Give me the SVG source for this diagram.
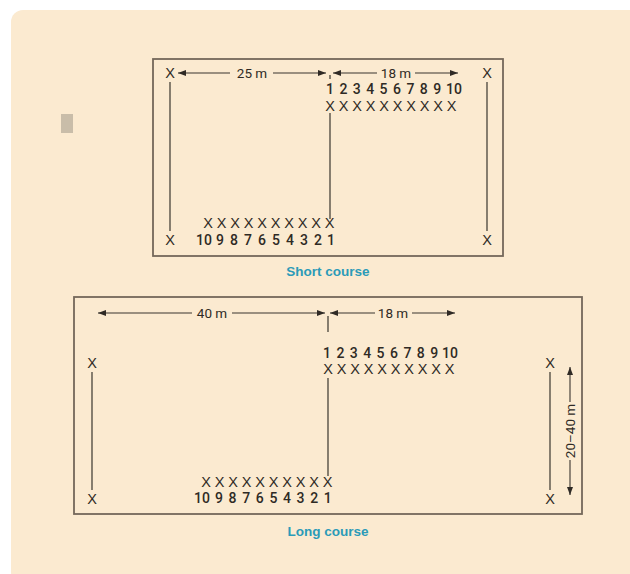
<svg xmlns="http://www.w3.org/2000/svg" width="630" height="574" viewBox="0 0 630 574">
  <defs>
    <marker id="head" viewBox="0 0 8 6" refX="8" refY="3" markerWidth="8" markerHeight="6" markerUnits="userSpaceOnUse" orient="auto-start-reverse">
      <path d="M0,0 L8,3 L0,6 Z" fill="#2f2a25"/>
    </marker>
    <style>
      .field { fill: none; stroke: #74685a; stroke-width: 1.8; }
      .line { stroke: #3a342e; stroke-width: 1.2; fill: none; }
      .arrow { stroke: #3a342e; stroke-width: 1.1; fill: none; }
      .x { font-family: "Liberation Sans", Arial, sans-serif; font-size: 14.5px; fill: #2f2a25; text-anchor: middle; }
      .num { font-family: Roboto, "Liberation Sans", Arial, sans-serif; font-size: 14px; font-weight: 500; fill: #2f2a25; text-anchor: middle; }
      .dim { font-family: Roboto, "Liberation Sans", Arial, sans-serif; font-size: 13.5px; fill: #2f2a25; text-anchor: middle; }
      .caption { font-family: "Liberation Sans", Arial, sans-serif; font-size: 13.5px; font-weight: bold; fill: #2b9bb8; text-anchor: middle; }
    </style>
  </defs>

  <!-- page panel -->
  <rect x="11" y="10" width="640" height="574" rx="12" fill="#fbead0"/>
  <rect x="61" y="114" width="12" height="19" fill="#c9bda9"/>

  <!-- short course -->
  <g id="short-course">
    <rect class="field" x="153" y="59" width="350" height="197"/>
    <g id="short-cones" class="x">
      <text x="170" y="78">X</text>
      <text x="487" y="78">X</text>
      <text x="170" y="245">X</text>
      <text x="487" y="245">X</text>
    </g>
    <text class="num" y="94"><tspan x="330">1</tspan><tspan x="343.4">2</tspan><tspan x="356.8">3</tspan><tspan x="370.2">4</tspan><tspan x="383.6">5</tspan><tspan x="397">6</tspan><tspan x="410.4">7</tspan><tspan x="423.8">8</tspan><tspan x="437.2">9</tspan><tspan x="454">10</tspan></text>
    <text class="x" y="111"><tspan x="330">X</tspan><tspan x="343.5">X</tspan><tspan x="357">X</tspan><tspan x="370.5">X</tspan><tspan x="384">X</tspan><tspan x="397.5">X</tspan><tspan x="411">X</tspan><tspan x="424.5">X</tspan><tspan x="438">X</tspan><tspan x="451.5">X</tspan></text>
    <text class="x" y="228"><tspan x="208">X</tspan><tspan x="221.5">X</tspan><tspan x="235">X</tspan><tspan x="248.5">X</tspan><tspan x="262">X</tspan><tspan x="275.5">X</tspan><tspan x="289">X</tspan><tspan x="302.5">X</tspan><tspan x="316">X</tspan><tspan x="329.5">X</tspan></text>
    <text class="num" y="245"><tspan x="204">10</tspan><tspan x="220">9</tspan><tspan x="234">8</tspan><tspan x="248">7</tspan><tspan x="262">6</tspan><tspan x="276">5</tspan><tspan x="290">4</tspan><tspan x="304">3</tspan><tspan x="318">2</tspan><tspan x="331">1</tspan></text>
    <text class="dim" x="252" y="78">25 m</text>
    <text class="dim" x="396" y="78">18 m</text>
    <text class="caption" x="328" y="276">Short course</text>
  </g>

  <!-- long course -->
  <g id="long-course">
    <rect class="field" x="74" y="297" width="508" height="217"/>
    <g id="long-cones" class="x">
      <text x="92" y="368">X</text>
      <text x="550" y="368">X</text>
      <text x="92" y="504">X</text>
      <text x="550" y="504">X</text>
    </g>
    <text class="num" y="358"><tspan x="327">1</tspan><tspan x="340.4">2</tspan><tspan x="353.8">3</tspan><tspan x="367.2">4</tspan><tspan x="380.6">5</tspan><tspan x="394">6</tspan><tspan x="407.4">7</tspan><tspan x="420.8">8</tspan><tspan x="434.2">9</tspan><tspan x="450">10</tspan></text>
    <text class="x" y="374"><tspan x="328">X</tspan><tspan x="341.5">X</tspan><tspan x="355">X</tspan><tspan x="368.5">X</tspan><tspan x="382">X</tspan><tspan x="395.5">X</tspan><tspan x="409">X</tspan><tspan x="422.5">X</tspan><tspan x="436">X</tspan><tspan x="449.5">X</tspan></text>
    <text class="x" y="487"><tspan x="206">X</tspan><tspan x="219.5">X</tspan><tspan x="233">X</tspan><tspan x="246.5">X</tspan><tspan x="260">X</tspan><tspan x="273.5">X</tspan><tspan x="287">X</tspan><tspan x="300.5">X</tspan><tspan x="314">X</tspan><tspan x="327.5">X</tspan></text>
    <text class="num" y="503"><tspan x="202">10</tspan><tspan x="219">9</tspan><tspan x="232.6">8</tspan><tspan x="246.2">7</tspan><tspan x="259.8">6</tspan><tspan x="273.4">5</tspan><tspan x="287">4</tspan><tspan x="300.6">3</tspan><tspan x="314.2">2</tspan><tspan x="327.8">1</tspan></text>
    <text class="dim" x="212" y="318">40 m</text>
    <text class="dim" x="393" y="318">18 m</text>
    <text class="dim" transform="translate(574.5 431) rotate(-90)">20–40 m</text>
    <text class="caption" x="328" y="536">Long course</text>
  </g>

  <!-- lines and dimension arrows -->
  <g id="connectors">
    <line class="line" x1="170" y1="82" x2="170" y2="231"/>
    <line class="line" x1="487" y1="82" x2="487" y2="231"/>
    <line class="line" x1="330" y1="113" x2="330" y2="219"/>
    <line class="line" x1="330" y1="75" x2="330" y2="79"/>
    <line class="arrow" x1="230" y1="73" x2="178" y2="73" marker-end="url(#head)"/>
    <line class="arrow" x1="273" y1="73" x2="326" y2="73" marker-end="url(#head)"/>
    <line class="arrow" x1="377" y1="73" x2="333" y2="73" marker-end="url(#head)"/>
    <line class="arrow" x1="415" y1="73" x2="458" y2="73" marker-end="url(#head)"/>

    <line class="line" x1="92" y1="372" x2="92" y2="490"/>
    <line class="line" x1="550" y1="372" x2="550" y2="490"/>
    <line class="line" x1="328" y1="316" x2="328" y2="332"/>
    <line class="line" x1="328" y1="378" x2="328" y2="476"/>
    <line class="arrow" x1="192" y1="313" x2="98" y2="313" marker-end="url(#head)"/>
    <line class="arrow" x1="232" y1="313" x2="325" y2="313" marker-end="url(#head)"/>
    <line class="arrow" x1="375" y1="313" x2="330" y2="313" marker-end="url(#head)"/>
    <line class="arrow" x1="412" y1="313" x2="455" y2="313" marker-end="url(#head)"/>
    <line class="arrow" x1="570" y1="402" x2="570" y2="367" marker-end="url(#head)"/>
    <line class="arrow" x1="570" y1="460" x2="570" y2="495" marker-end="url(#head)"/>
  </g>
</svg>
